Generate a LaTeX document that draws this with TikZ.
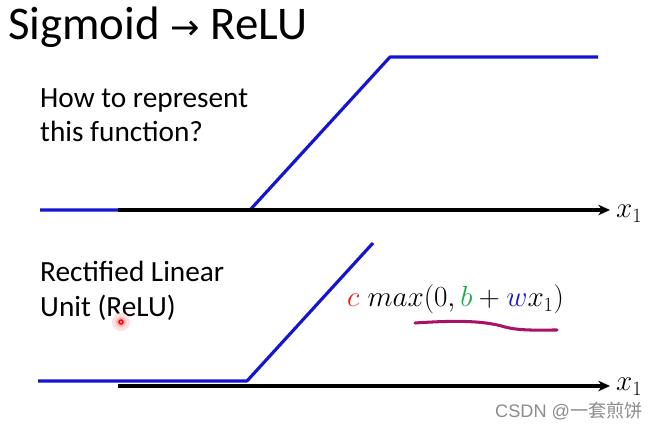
\documentclass[tikz,border=0pt]{standalone}
\usepackage{fontspec}
\setmainfont{Carlito}
\newfontfamily\arrowfont{DejaVu Sans}
\newfontfamily\cjk{Noto Sans CJK SC}
\usepackage{amsmath}
\usetikzlibrary{arrows.meta}

\definecolor{relublue}{RGB}{20,20,210}
\definecolor{inkred}{RGB}{230,30,30}
\definecolor{inkgreen}{RGB}{30,170,80}
\definecolor{penpurple}{RGB}{165,20,105}

\tikzset{
  curve/.style={relublue,line width=2.7pt},
  axis/.style={black,line width=2.7pt,-{Stealth[length=10pt,width=9pt]}},
  label/.style={anchor=base west,inner sep=0pt}
}

\begin{document}
\begin{tikzpicture}[x=0.03cm,y=-0.03cm]
        \useasboundingbox (0,0) rectangle (658,427);

        \node[label,font=\fontsize{40}{44}\selectfont] (title) at (8,40) {Sigmoid {\arrowfont\fontsize{30}{34}\selectfont →} ReLU};
        \node[label,font=\fontsize{25}{28}\selectfont] (ask) at (40,108) {How to represent};
        \node[label,font=\fontsize{25}{28}\selectfont] (ask2) at (40,142) {this function?};
        \node[label,font=\fontsize{25}{28}\selectfont] (name) at (40,282) {Rectified Linear};
        \node[label,font=\fontsize{25}{28}\selectfont] (name2) at (40,317) {Unit (ReLU)};

        % hard sigmoid
        \draw[curve,line join=round] (40,210) -- (250,210) -- (390,57) -- (598,57);
        \coordinate (a1) at (118,210);
        \coordinate (b1) at (610,210);
        \draw[axis] (a1) -- (b1);
        \node[label,font=\fontsize{27}{30}\selectfont] (x1) at (616,218) {$x_1$};

        % relu
        \draw[curve,line join=round] (38,381) -- (247,381) -- (373,243);
        \coordinate (a2) at (118,386);
        \coordinate (b2) at (610,386);
        \draw[axis] (a2) -- (b2);
        \node[label,font=\fontsize{27}{30}\selectfont] (x2) at (616,391) {$x_1$};

        \node[label,font=\fontsize{24}{27}\selectfont] (f) at (347,307)
          {$\color{inkred}c\color{black}\;max(0,\color{inkgreen}b\color{black}+\color{relublue}w\color{black}x_1)$};
        \draw[penpurple,line width=2.6pt,line cap=round] (415,323) .. controls (460,320) and (485,321) .. (505,327) .. controls (520,331) and (540,330) .. (557,330);

        % pointer
        \fill[red!12] (121,322) circle (9);
        \fill[red!30] (121,322) circle (5);
        \fill[red] (121,322) circle (2.8);
        \fill[white!80!red] (121,322) circle (1.2);

        \node[label,text=black!45,font=\fontsize{15.5}{18}\selectfont] (mark) at (495,418) {\setmainfont{Liberation Sans}CSDN @{\cjk 一套煎饼}};
\end{tikzpicture}
\end{document}
